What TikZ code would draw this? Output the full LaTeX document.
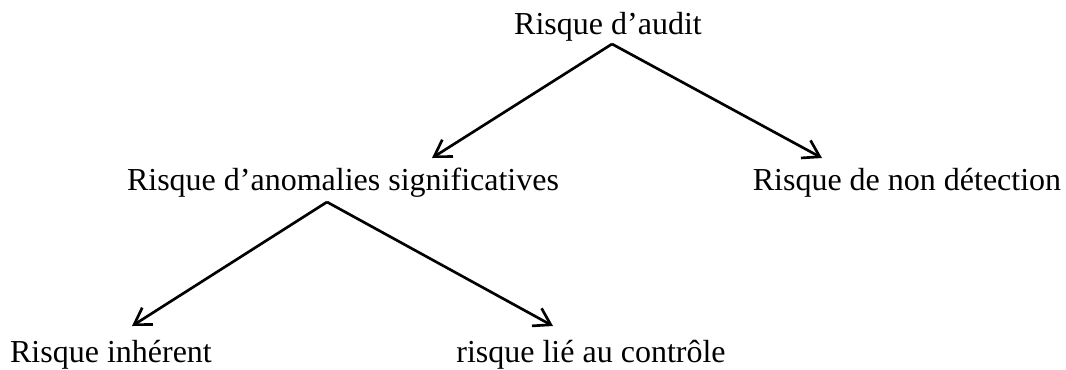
\documentclass[tikz,border=0pt]{standalone}
\usepackage{fontspec}
\setmainfont{Liberation Serif}
\usetikzlibrary{positioning,arrows.meta}

\begin{document}
\begin{tikzpicture}[x=0.75pt,y=-0.75pt,->,>={Straight Barb[length=12pt,width=15pt]},line width=2pt]
    \tikzstyle{every node}=[font=\fontsize{24}{28}\selectfont,inner sep=0pt,anchor=base]
    \useasboundingbox (0,0) rectangle (1066,369);
    \node (audit) at (608,34) {Risque d’audit};
    \node (anom) at (343,190) {Risque d’anomalies significatives};
    \node (detect) at (907,190) {Risque de non détection};
    \node (inher) at (111,362) {Risque inhérent};
    \node (ctrl) at (591,362) {risque lié au contrôle};

    \coordinate (a0) at (612,44);
    \coordinate (a1) at (432,158);
    \coordinate (a2) at (822,158);
    \coordinate (b0) at (327,202);
    \coordinate (b1) at (132,326);
    \coordinate (b2) at (553,326);

    \draw (a0) -- (a1);
    \draw (a0) -- (a2);
    \draw (b0) -- (b1);
    \draw (b0) -- (b2);
\end{tikzpicture}
\end{document}
